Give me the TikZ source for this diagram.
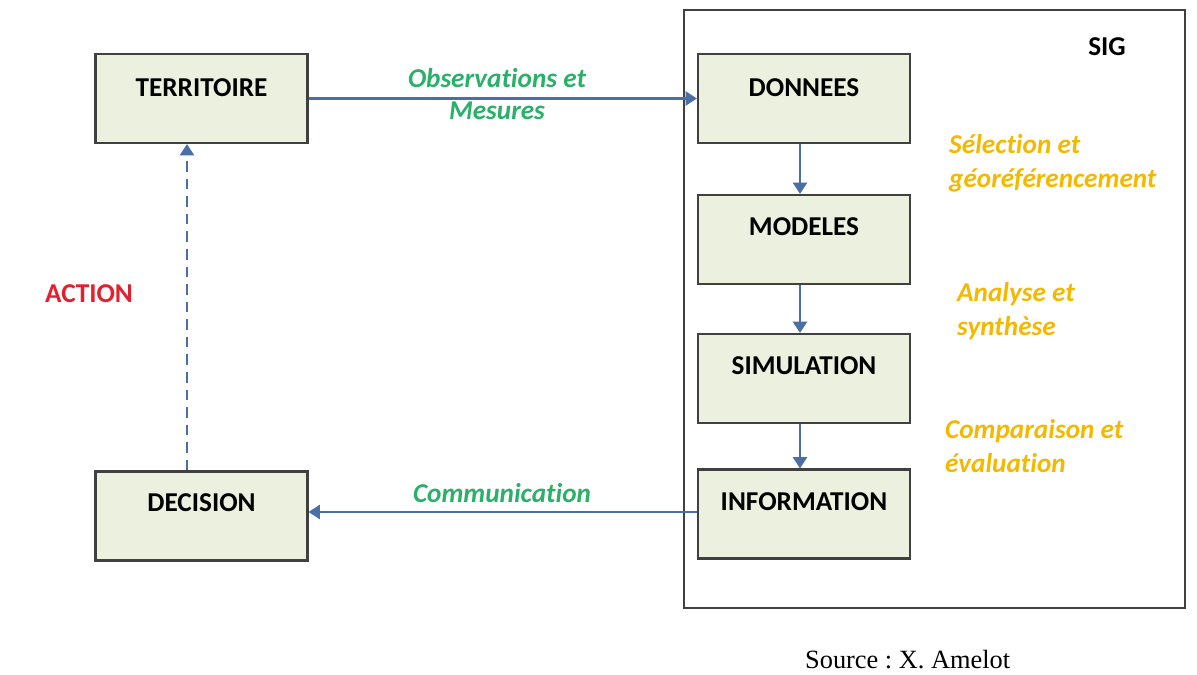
\documentclass[tikz,border=0pt]{standalone}
\usepackage{fontspec}
\setmainfont{Carlito}[Ligatures=NoCommon]
\newfontfamily\srcfont{Liberation Serif}
\usetikzlibrary{arrows.meta}
\definecolor{boxfill}{HTML}{EBF1DE}
\definecolor{boxline}{HTML}{404040}
\definecolor{arrowblue}{HTML}{4A6FA5}
\definecolor{lblgreen}{HTML}{2BB06A}
\definecolor{lblorange}{HTML}{F5B800}
\definecolor{lblred}{HTML}{E5202E}
\tikzset{
  stepbox/.style={draw=boxline, line width=1.2pt, fill=boxfill, minimum width=212*0.02cm, minimum height=89*0.02cm, inner sep=0pt},
  boxtext/.style={font=\fontsize{15.5}{17}\selectfont\bfseries, inner sep=0pt},
  flow/.style={draw=arrowblue, line width=1.5pt, -{Triangle[width=8pt,length=6.5pt]}},
  greenlbl/.style={text=lblgreen, font=\fontsize{15.5}{18.2}\selectfont\bfseries\itshape, align=center},
  orangelbl/.style={text=lblorange, font=\fontsize{15.5}{19.4}\selectfont\bfseries\itshape, align=left, anchor=west},
}
\begin{document}
\frenchspacing
\begin{tikzpicture}[x=0.02cm, y=-0.02cm]
\useasboundingbox (0,0) rectangle (1197,675);
% SIG frame
\node[draw=boxline, line width=1pt, minimum width=501*0.02cm, minimum height=598*0.02cm, inner sep=0pt] (sig) at (934.5,309) {};
\node[boxtext] (siglbl) at (1107,47) {SIG};
% boxes
\node[stepbox] (terr) at (201.5,98.5) {};
\node[boxtext] (terrt) at (201.5,88) {TERRITOIRE};
\node[stepbox] (don) at (804,98.5) {};
\node[boxtext] (dont) at (804,88) {DONNEES};
\node[stepbox] (mod) at (804,239.5) {};
\node[boxtext] (modt) at (804,227) {MODELES};
\node[stepbox] (sim) at (804,378.5) {};
\node[boxtext] (simt) at (804,366) {SIMULATION};
\node[stepbox] (inf) at (804,514) {};
\node[boxtext] (inft) at (804,502) {INFORMATION};
\node[stepbox] (dec) at (201.5,516) {};
\node[boxtext] (dect) at (201.5,503) {DECISION};
% arrows
\draw[flow] (terr.east) -- (don.west);
\draw[flow] (don.south -| 800,0) -- (mod.north -| 800,0);
\draw[flow] (mod.south -| 800,0) -- (sim.north -| 800,0);
\draw[flow] (sim.south -| 800,0) -- (inf.north -| 800,0);
\draw[flow] (inf.west |- 0,512) -- (dec.east |- 0,512);
\draw[flow, dash pattern=on 6pt off 4pt] (dec.north -| 187,0) -- (terr.south -| 187,0);
% labels
\node[greenlbl] (obs) at (497,94) {Observations et\\Mesures};
\node[greenlbl] (com) at (502,493) {Communication};
\node[text=lblred, boxtext] (act) at (89,294) {ACTION};
\node[orangelbl] (sel) at (943,163) {Sélection et\\géoréférencement};
\node[orangelbl] (ana) at (951,311) {Analyse et\\synthèse};
\node[orangelbl] (cmp) at (939,446) {Comparaison et\\évaluation};
\node[font=\srcfont\fontsize{15}{17}\selectfont, anchor=west] (src) at (799,660) {Source : X. Amelot};
\end{tikzpicture}
\end{document}
